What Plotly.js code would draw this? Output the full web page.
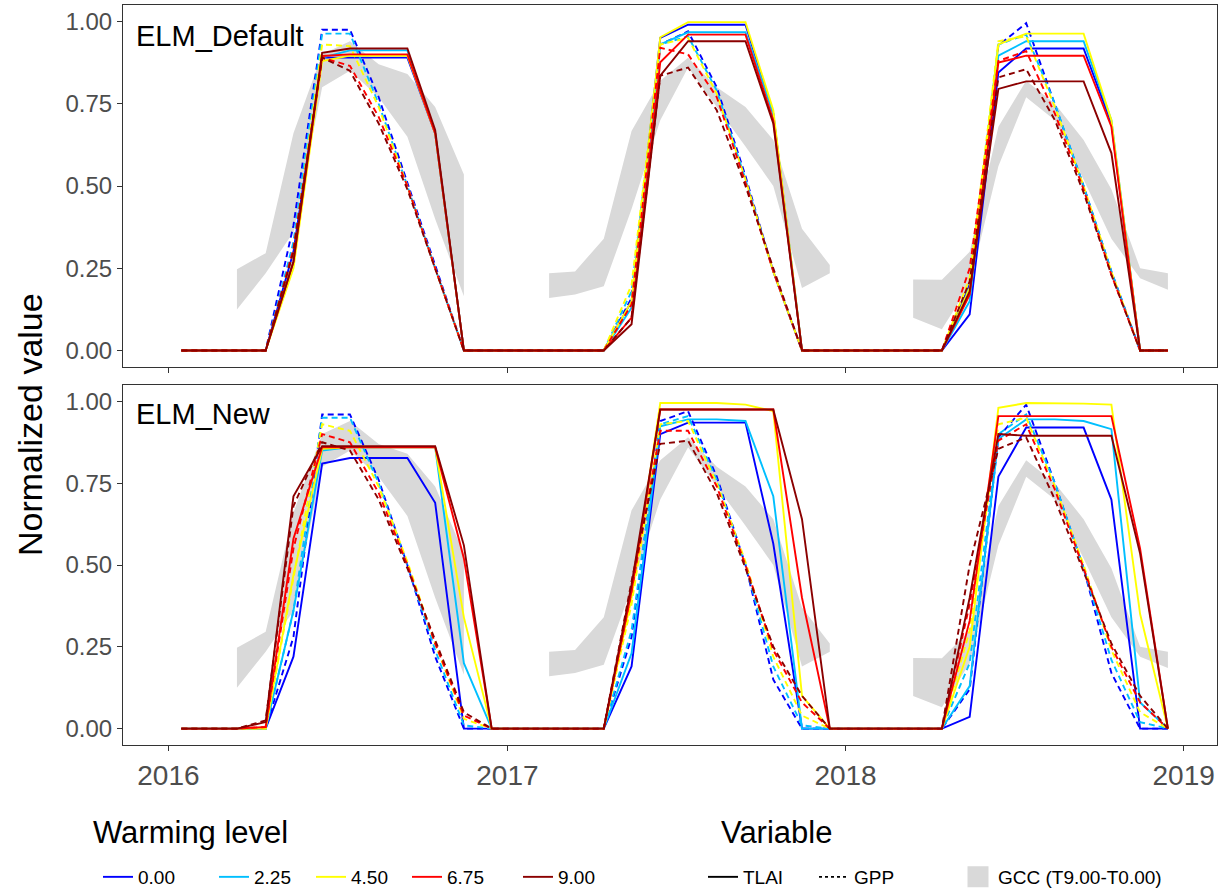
<!DOCTYPE html>
<html><head><meta charset="utf-8">
<script src="https://cdn.plot.ly/plotly-3.0.1.min.js"></script>
<style>html,body{margin:0;padding:0;background:#fff}#chart{width:1224px;height:892px}</style>
</head><body><div id="chart"></div>
<script>
// ---------- categories ----------
const years = [2016, 2017, 2018];
const monthDates = [];
years.forEach(y => { for (let m = 1; m <= 12; m++) monthDates.push(y + '-' + String(m).padStart(2, '0') + '-15'); });
const warmingLevels = ['0.00', '2.25', '4.50', '6.75', '9.00'];
const yTickVals = [0, 0.25, 0.5, 0.75, 1];
const yTickText = ['0.00', '0.25', '0.50', '0.75', '1.00'];
const xTickVals = ['2016-01-01', '2017-01-01', '2018-01-01', '2019-01-01'];
const xTickText = ['2016', '2017', '2018', '2019'];

// ---------- GCC observed band (T9.00 - T0.00) ----------
const gccLow = [null, null, 0.125, 0.235, 0.36, 0.80, 0.85, 0.77, 0.65, 0.40, 0.165, null,
  null, 0.16, 0.17, 0.195, 0.43, 0.70, 0.86, 0.74, 0.62, 0.50, 0.19, 0.235,
  null, null, 0.10, 0.065, 0.20, 0.56, 0.77, 0.70, 0.52, 0.34, 0.22, 0.185];
const gccHigh = [null, null, 0.247, 0.296, 0.66, 0.90, 0.94, 0.87, 0.84, 0.74, 0.535, null,
  null, 0.235, 0.24, 0.34, 0.667, 0.82, 0.89, 0.80, 0.74, 0.64, 0.37, 0.26,
  null, null, 0.216, 0.215, 0.30, 0.68, 0.82, 0.75, 0.64, 0.49, 0.25, 0.235];

// ---------- ELM_Default : TLAI ----------
const def_tlai_000 = [0,0,0,0,0.30,0.89,0.89,0.89,0.89,0.66,0,0, 0,0,0,0,0.15,0.95,0.99,0.99,0.99,0.72,0,0, 0,0,0,0,0.11,0.845,0.918,0.918,0.918,0.69,0,0];
const def_tlai_225 = [0,0,0,0,0.27,0.89,0.912,0.912,0.912,0.66,0,0, 0,0,0,0,0.13,0.93,0.967,0.967,0.967,0.72,0,0, 0,0,0,0,0.15,0.896,0.94,0.94,0.94,0.70,0,0];
const def_tlai_450 = [0,0,0,0,0.25,0.88,0.896,0.896,0.896,0.66,0,0, 0,0,0,0,0.15,0.952,0.998,0.998,0.998,0.73,0,0, 0,0,0,0,0.19,0.93,0.963,0.963,0.963,0.70,0,0];
const def_tlai_675 = [0,0,0,0,0.27,0.895,0.90,0.90,0.90,0.66,0,0, 0,0,0,0,0.10,0.876,0.96,0.96,0.96,0.70,0,0, 0,0,0,0,0.17,0.875,0.896,0.896,0.896,0.68,0,0];
const def_tlai_900 = [0,0,0,0,0.27,0.905,0.918,0.918,0.918,0.67,0,0, 0,0,0,0,0.08,0.835,0.94,0.94,0.94,0.69,0,0, 0,0,0,0,0.18,0.795,0.818,0.818,0.818,0.60,0,0];
// ---------- ELM_Default : GPP ----------
const def_gpp_000 = [0,0,0,0,0.38,0.975,0.975,0.77,0.51,0.26,0,0, 0,0,0,0,0.16,0.93,0.97,0.80,0.53,0.24,0,0, 0,0,0,0,0.20,0.927,0.995,0.75,0.50,0.24,0,0];
const def_gpp_225 = [0,0,0,0,0.33,0.963,0.963,0.75,0.50,0.25,0,0, 0,0,0,0,0.18,0.93,0.955,0.79,0.52,0.24,0,0, 0,0,0,0,0.20,0.93,0.96,0.75,0.50,0.24,0,0];
const def_gpp_450 = [0,0,0,0,0.30,0.93,0.925,0.74,0.50,0.25,0,0, 0,0,0,0,0.20,0.93,0.95,0.78,0.52,0.24,0,0, 0,0,0,0,0.22,0.94,0.955,0.74,0.50,0.24,0,0];
const def_gpp_675 = [0,0,0,0,0.31,0.89,0.865,0.71,0.50,0.25,0,0, 0,0,0,0,0.14,0.92,0.90,0.77,0.51,0.24,0,0, 0,0,0,0,0.25,0.88,0.91,0.72,0.49,0.23,0,0];
const def_gpp_900 = [0,0,0,0,0.30,0.89,0.85,0.69,0.49,0.25,0,0, 0,0,0,0,0.10,0.835,0.86,0.73,0.50,0.25,0,0, 0,0,0,0,0.21,0.83,0.855,0.70,0.48,0.23,0,0];

// ---------- ELM_New : TLAI ----------
const new_tlai_000 = [0,0,0,0,0.22,0.81,0.827,0.827,0.827,0.69,0,0, 0,0,0,0,0.19,0.90,0.935,0.935,0.935,0.565,0,0, 0,0,0,0,0.036,0.77,0.92,0.92,0.92,0.70,0,0];
const new_tlai_225 = [0,0,0,0,0.36,0.85,0.86,0.86,0.86,0.86,0.20,0, 0,0,0,0,0.23,0.924,0.945,0.945,0.94,0.71,0,0, 0,0,0,0,0.13,0.885,0.945,0.945,0.94,0.915,0.08,0];
const new_tlai_450 = [0,0,0,0,0.47,0.855,0.86,0.86,0.86,0.86,0.34,0, 0,0,0,0,0.40,0.995,0.995,0.995,0.99,0.97,0.10,0, 0,0,0,0,0.25,0.98,0.995,0.995,0.993,0.99,0.35,0];
const new_tlai_675 = [0,0,0,0.005,0.58,0.86,0.86,0.86,0.86,0.86,0.52,0, 0,0,0,0,0.42,0.975,0.975,0.975,0.975,0.975,0.40,0, 0,0,0,0,0.33,0.955,0.955,0.955,0.955,0.955,0.55,0];
const new_tlai_900 = [0,0,0,0.02,0.71,0.863,0.863,0.863,0.863,0.863,0.56,0, 0,0,0,0,0.44,0.975,0.975,0.975,0.975,0.975,0.64,0, 0,0,0,0,0.40,0.90,0.895,0.895,0.895,0.895,0.535,0];
// ---------- ELM_New : GPP ----------
const new_gpp_000 = [0,0,0,0,0.28,0.96,0.96,0.76,0.50,0.22,0,0, 0,0,0,0,0.28,0.94,0.97,0.77,0.50,0.15,0,0, 0,0,0,0,0.12,0.89,0.99,0.75,0.49,0.17,0,0];
const new_gpp_225 = [0,0,0,0,0.36,0.95,0.95,0.75,0.50,0.24,0.01,0, 0,0,0,0,0.30,0.93,0.955,0.76,0.50,0.19,0.01,0, 0,0,0,0,0.20,0.90,0.96,0.75,0.49,0.21,0.02,0];
const new_gpp_450 = [0,0,0,0,0.46,0.93,0.91,0.74,0.51,0.26,0.03,0, 0,0,0,0,0.38,0.93,0.94,0.75,0.51,0.22,0.04,0, 0,0,0,0,0.30,0.93,0.95,0.74,0.50,0.24,0.05,0];
const new_gpp_675 = [0,0,0,0.005,0.55,0.90,0.875,0.72,0.50,0.26,0.04,0, 0,0,0,0,0.42,0.91,0.91,0.74,0.50,0.24,0.08,0, 0,0,0,0,0.38,0.88,0.93,0.73,0.49,0.25,0.08,0];
const new_gpp_900 = [0,0,0,0.025,0.68,0.875,0.85,0.70,0.49,0.27,0.05,0, 0,0,0,0,0.45,0.87,0.88,0.72,0.49,0.25,0.10,0, 0,0,0,0,0.50,0.855,0.89,0.70,0.48,0.26,0.10,0];

// ---------- styling ----------
const colors = ['#0000FF', '#00BFFF', '#FFFF00', '#FF0000', '#8B0000'];
const FONT = 'Liberation Sans, Arial, sans-serif';
const LW = 1.9;
const DASH = '6px,4px';

const defTLAI = [def_tlai_000, def_tlai_225, def_tlai_450, def_tlai_675, def_tlai_900];
const defGPP = [def_gpp_000, def_gpp_225, def_gpp_450, def_gpp_675, def_gpp_900];
const newTLAI = [new_tlai_000, new_tlai_225, new_tlai_450, new_tlai_675, new_tlai_900];
const newGPP = [new_gpp_000, new_gpp_225, new_gpp_450, new_gpp_675, new_gpp_900];

function bandTrace(xa, ya) {
  const bx = [], by = [];
  let i = 0;
  while (i < monthDates.length) {
    if (gccLow[i] === null) { i++; continue; }
    let j = i;
    while (j < monthDates.length && gccLow[j] !== null) j++;
    for (let k = i; k < j; k++) { bx.push(monthDates[k]); by.push(gccHigh[k]); }
    for (let k = j - 1; k >= i; k--) { bx.push(monthDates[k]); by.push(gccLow[k]); }
    bx.push(null); by.push(null);
    i = j;
  }
  return { type: 'scatter', mode: 'lines', x: bx, y: by, xaxis: xa, yaxis: ya,
    fill: 'toself', fillcolor: '#D9D9D9', line: { width: 0, color: '#D9D9D9' },
    hoverinfo: 'skip', showlegend: false, name: 'GCC (T9.00-T0.00)' };
}

const traces = [];
traces.push(bandTrace('x', 'y'));
traces.push(bandTrace('x2', 'y2'));

function addPanel(tlai, gpp, xa, ya, withLegend) {
  for (let w = 0; w < warmingLevels.length; w++) {
    traces.push({ type: 'scatter', mode: 'lines', x: monthDates, y: tlai[w], xaxis: xa, yaxis: ya,
      line: { color: colors[w], width: LW }, name: warmingLevels[w],
      showlegend: withLegend, legend: 'legend' + (w === 0 ? '' : (w + 1)), hoverinfo: 'skip' });
    traces.push({ type: 'scatter', mode: 'lines', x: monthDates, y: gpp[w], xaxis: xa, yaxis: ya,
      line: { color: colors[w], width: LW, dash: DASH }, name: warmingLevels[w] + ' GPP',
      showlegend: false, hoverinfo: 'skip' });
  }
}
addPanel(defTLAI, defGPP, 'x', 'y', true);
addPanel(newTLAI, newGPP, 'x2', 'y2', false);

// legend keys (no data)
traces.push({ type: 'scatter', mode: 'lines', x: [null], y: [null], xaxis: 'x', yaxis: 'y',
  line: { color: '#000', width: LW }, name: 'TLAI', legend: 'legend6', showlegend: true });
traces.push({ type: 'scatter', mode: 'lines', x: [null], y: [null], xaxis: 'x', yaxis: 'y',
  line: { color: '#000', width: LW, dash: '3px,3px' }, name: 'GPP', legend: 'legend7', showlegend: true });
traces.push({ type: 'scatter', mode: 'markers', x: [null], y: [null], xaxis: 'x', yaxis: 'y',
  marker: { symbol: 'square', size: 16, color: '#D9D9D9', line: { color: '#D9D9D9', width: 5 } },
  name: 'GCC (T9.00-T0.00)', legend: 'legend8', showlegend: true });

// ---------- layout ----------
const L = 123, R = 1217, T = 5, B = 745;
const px2x = p => (p - L) / (R - L);
const px2y = p => (B - p) / (B - T);

const xBase = {
  type: 'date', range: ['2015-11-13', '2019-02-06'], tickvals: xTickVals, ticktext: xTickText,
  ticks: 'outside', ticklen: 5, tickwidth: 1, tickcolor: '#333', showline: true, mirror: true,
  linecolor: '#333', linewidth: 1, showgrid: false, zeroline: false,
  tickfont: { family: FONT, size: 28, color: '#4D4D4D' }
};
const yBase = {
  range: [-0.05, 1.05], tickvals: yTickVals, ticktext: yTickText,
  ticks: 'outside', ticklen: 5, tickwidth: 1, tickcolor: '#333', showline: true, mirror: true,
  linecolor: '#333', linewidth: 1, showgrid: false, zeroline: false,
  tickfont: { family: FONT, size: 24, color: '#4D4D4D' }
};

const legendY = px2y(877);
const legendTextX = [140, 256, 353, 449, 560, 745, 856, 1000];
const legendNames = ['legend', 'legend2', 'legend3', 'legend4', 'legend5', 'legend6', 'legend7', 'legend8'];

const layout = {
  width: 1224, height: 892,
  margin: { l: L, r: 1224 - R, t: T, b: 892 - B, autoexpand: false },
  paper_bgcolor: '#fff', plot_bgcolor: '#fff',
  font: { family: FONT, color: '#000' },
  xaxis: Object.assign({}, xBase, { anchor: 'y', showticklabels: false }),
  yaxis: Object.assign({}, yBase, { anchor: 'x', domain: [px2y(367), 1] }),
  xaxis2: Object.assign({}, xBase, { anchor: 'y2' }),
  yaxis2: Object.assign({}, yBase, { anchor: 'x2', domain: [0, px2y(385)] }),
  annotations: [
    { text: 'ELM_Default', xref: 'paper', yref: 'paper', x: px2x(134), y: px2y(36),
      xanchor: 'left', yanchor: 'middle', showarrow: false, font: { family: FONT, size: 29, color: '#000' } },
    { text: 'ELM_New', xref: 'paper', yref: 'paper', x: px2x(134), y: px2y(414),
      xanchor: 'left', yanchor: 'middle', showarrow: false, font: { family: FONT, size: 29, color: '#000' } },
    { text: 'Normalized value', xref: 'paper', yref: 'paper', x: px2x(30), y: px2y(425), textangle: -90,
      xanchor: 'center', yanchor: 'middle', showarrow: false, font: { family: FONT, size: 34, color: '#000' } },
    { text: 'Warming level', xref: 'paper', yref: 'paper', x: px2x(91), y: px2y(832),
      xanchor: 'left', yanchor: 'middle', showarrow: false, font: { family: FONT, size: 31, color: '#000' } },
    { text: 'Variable', xref: 'paper', yref: 'paper', x: px2x(719), y: px2y(832),
      xanchor: 'left', yanchor: 'middle', showarrow: false, font: { family: FONT, size: 31, color: '#000' } }
  ]
};
legendNames.forEach((nm, i) => {
  layout[nm] = { x: px2x(legendTextX[i] - 42), y: legendY, xanchor: 'left', yanchor: 'middle',
    orientation: 'h', bgcolor: 'rgba(0,0,0,0)', borderwidth: 0,
    font: { family: FONT, size: 19, color: '#000' } };
});

Plotly.newPlot('chart', traces, layout, { staticPlot: true, displayModeBar: false });
</script>
</body></html>
